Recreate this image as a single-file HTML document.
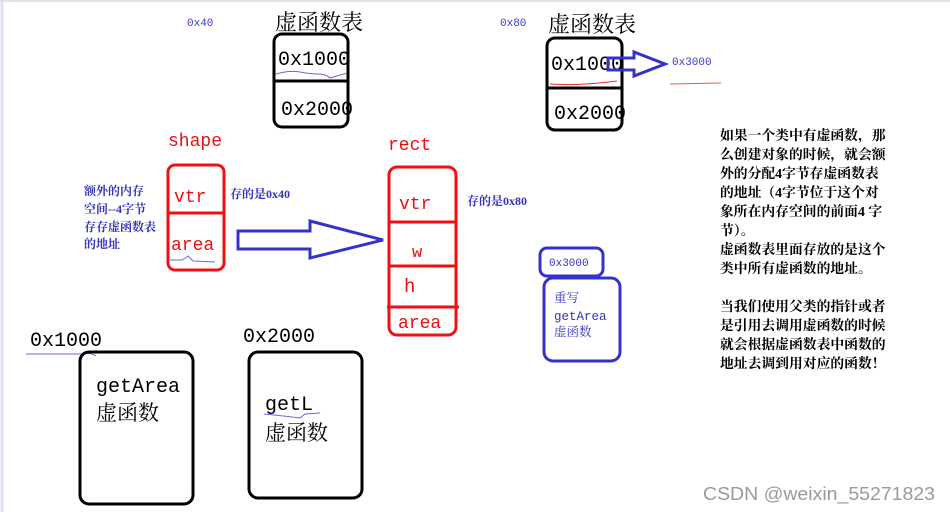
<!DOCTYPE html>
<html><head><meta charset="utf-8"><style>
html,body{margin:0;padding:0;background:#fff;}
svg{display:block;}
.m{font-family:"Liberation Mono","Noto Serif CJK SC",monospace;}
.c{font-family:"Liberation Serif","Noto Serif CJK SC",serif;}
</style></head><body>
<svg width="950" height="512" viewBox="0 0 950 512" xmlns="http://www.w3.org/2000/svg">
<rect x="0" y="0" width="950" height="512" fill="#fff"/>
<line x1="0" y1="1" x2="950" y2="1" stroke="#e4e4e4" stroke-width="2"/>
<line x1="2" y1="0" x2="2" y2="512" stroke="#dde3ee" stroke-width="3"/>

<text x="187" y="26" class="m" font-size="11" fill="#3a3ad0">0x40</text>
<text x="275" y="30" class="c" font-size="22" fill="#000">虚函数表</text>
<rect x="274" y="34" width="74" height="93" rx="8" fill="none" stroke="#000" stroke-width="3"/>
<line x1="274" y1="81" x2="348" y2="81" stroke="#000" stroke-width="3"/>
<text x="278" y="65" class="m" font-size="20" fill="#000">0x1000</text>
<text x="281" y="115" class="m" font-size="20" fill="#000">0x2000</text>
<path d="M276 74 Q290 70 300 72 T318 74 T330 78 L347 73" fill="none" stroke="#6a6ad8" stroke-width="1"/>

<text x="500" y="26" class="m" font-size="11" fill="#3a3ad0">0x80</text>
<text x="548" y="32" class="c" font-size="22" fill="#000">虚函数表</text>
<rect x="547" y="38" width="75" height="92" rx="8" fill="none" stroke="#000" stroke-width="3"/>
<line x1="547" y1="88" x2="622" y2="88" stroke="#000" stroke-width="3"/>
<text x="551" y="70" class="m" font-size="20" fill="#000">0x1000</text>
<text x="554" y="119" class="m" font-size="20" fill="#000">0x2000</text>
<path d="M550 84 Q580 86 617 81" fill="none" stroke="#e03030" stroke-width="1"/>
<polygon points="608,58 634,58 634,52 665,64 634,76 634,70 608,70" fill="none" stroke="#3333cc" stroke-width="3"/>
<text x="672" y="65" class="m" font-size="11" fill="#3a3ad0">0x3000</text>
<line x1="670" y1="84" x2="721" y2="83" stroke="#f05050" stroke-width="1"/>

<text x="168" y="146" class="m" font-size="18" fill="#e81010">shape</text>
<rect x="168" y="165" width="56" height="105" rx="7" fill="none" stroke="#ee1111" stroke-width="3"/>
<line x1="168" y1="213" x2="224" y2="213" stroke="#ee1111" stroke-width="3"/>
<text x="174" y="202" class="m" font-size="18" fill="#e81010">vtr</text>
<text x="171" y="250" class="m" font-size="18" fill="#e81010">area</text>
<path d="M170 260 L182 260 L188 256 L193 261 L215 262" fill="none" stroke="#6a6ad8" stroke-width="1"/>
<text class="c" font-size="12" fill="#3333bb" font-weight="bold"><tspan x="84" y="195">额外的内存</tspan><tspan x="84" y="213">空间--4字节</tspan><tspan x="84" y="231">存存虚函数表</tspan><tspan x="84" y="248">的地址</tspan></text>
<text x="230" y="198" class="c" font-size="12" fill="#3333bb" font-weight="bold">存的是0x40</text>

<polygon points="238,231 310,231 310,221 383,240 310,258 310,249 238,249" fill="none" stroke="#3333cc" stroke-width="3"/>

<text x="388" y="150" class="m" font-size="18" fill="#e81010">rect</text>
<rect x="389" y="167" width="67" height="168" rx="8" fill="none" stroke="#ee1111" stroke-width="3"/>
<line x1="389" y1="222" x2="456" y2="222" stroke="#ee1111" stroke-width="3"/>
<line x1="389" y1="266" x2="456" y2="266" stroke="#ee1111" stroke-width="3"/>
<line x1="387" y1="307" x2="459" y2="307" stroke="#ee1111" stroke-width="3"/>
<text x="399" y="209" class="m" font-size="18" fill="#e81010">vtr</text>
<text x="412" y="257" class="m" font-size="17" fill="#e81010">w</text>
<text x="404" y="292" class="m" font-size="19" fill="#e81010">h</text>
<text x="398" y="328" class="m" font-size="18" fill="#e81010">area</text>
<text x="467" y="205" class="c" font-size="12" fill="#3333bb" font-weight="bold">存的是0x80</text>

<rect x="540" y="248" width="63" height="28" rx="7" fill="none" stroke="#3333cc" stroke-width="3"/>
<text x="549" y="266" class="m" font-size="11" fill="#3333bb">0x3000</text>
<rect x="544" y="278" width="76" height="83" rx="9" fill="none" stroke="#3333cc" stroke-width="3"/>
<text class="c" font-size="12.5" fill="#3333bb"><tspan x="554" y="302">重写</tspan><tspan x="554" y="320" class="m">getArea</tspan><tspan x="554" y="336">虚函数</tspan></text>

<text class="c" font-size="13.8" fill="#000" font-weight="bold"><tspan x="720" y="140">如果一个类中有虚函数，那</tspan><tspan x="720" y="159">么创建对象的时候，就会额</tspan><tspan x="720" y="178">外的分配4字节存虚函数表</tspan><tspan x="720" y="197">的地址（4字节位于这个对</tspan><tspan x="720" y="216">象所在内存空间的前面4 字</tspan><tspan x="720" y="235">节）。</tspan><tspan x="720" y="254">虚函数表里面存放的是这个</tspan><tspan x="720" y="273">类中所有虚函数的地址。</tspan><tspan x="720" y="311">当我们使用父类的指针或者</tspan><tspan x="720" y="330">是引用去调用虚函数的时候</tspan><tspan x="720" y="349">就会根据虚函数表中函数的</tspan><tspan x="720" y="368">地址去调到用对应的函数！</tspan></text>

<text x="30" y="346" class="m" font-size="20" fill="#000">0x1000</text>
<path d="M26 354 L84 354 Q90 352 96 356" fill="none" stroke="#6a6ad8" stroke-width="1"/>
<rect x="80" y="352" width="113" height="152" rx="9" fill="none" stroke="#000" stroke-width="3"/>
<text x="96" y="392" class="m" font-size="20" fill="#000">getArea</text>
<text x="96" y="420" class="c" font-size="21" fill="#000">虚函数</text>

<text x="243" y="342" class="m" font-size="20" fill="#000">0x2000</text>
<rect x="249" y="352" width="113" height="146" rx="9" fill="none" stroke="#000" stroke-width="3"/>
<text x="265" y="410" class="m" font-size="20" fill="#000">getL</text>
<path d="M264 414 Q285 416 300 418 L305 414 L320 413" fill="none" stroke="#6a6ad8" stroke-width="1"/>
<text x="265" y="440" class="c" font-size="21" fill="#000">虚函数</text>

<text x="703" y="500" font-family="Liberation Sans, sans-serif" font-size="18" textLength="232" lengthAdjust="spacingAndGlyphs" fill="#9a9a9a">CSDN @weixin_55271823</text>
</svg>
</body></html>
